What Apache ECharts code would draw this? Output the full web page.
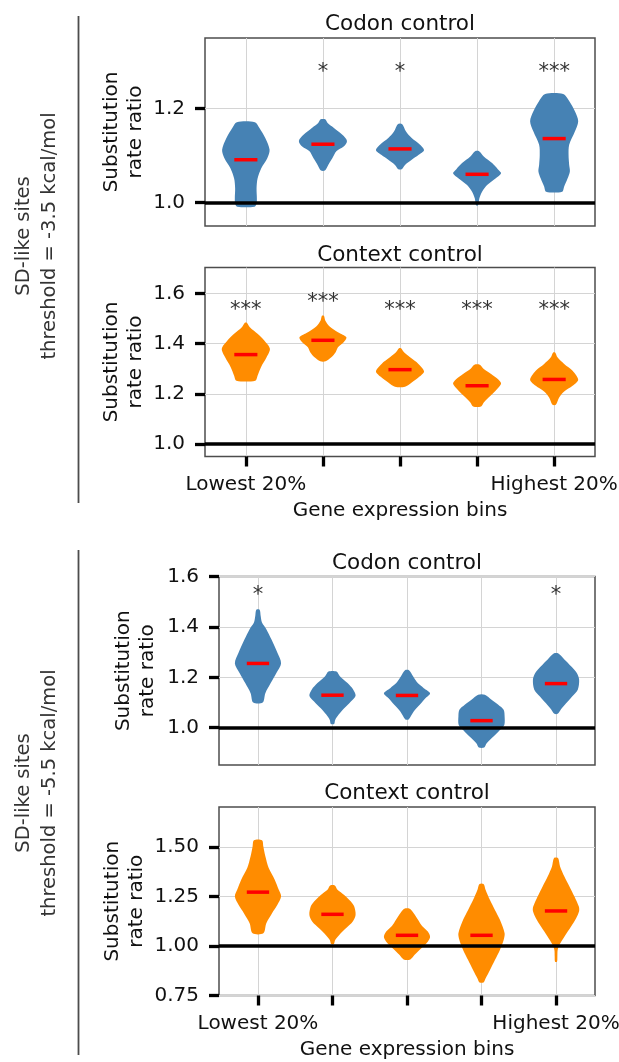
<!DOCTYPE html>
<html>
<head>
<meta charset="utf-8">
<script src="https://cdn.jsdelivr.net/npm/echarts@6/dist/echarts.min.js"></script>
<style>
  html, body { margin: 0; padding: 0; background: #fff; }
  #chart { width: 619px; height: 1062px; }
</style>
</head>
<body>
<div id="chart"></div>
<script>
// x tick labels (expression bins, lowest -> highest)
var bins = ['Lowest 20%', '', '', '', 'Highest 20%'];

// ---- threshold = -3.5 kcal/mol, codon control ----
var codon35Medians = [1.091, 1.124, 1.114, 1.060, 1.136];
var codon35Stars = ['', '*', '*', '', '***'];
var codon35StarY = [1.285, 1.285, 1.285, 1.285, 1.285];
// violin outlines: y values and half widths (in bin units), top to bottom
var codon35Y = [
  [1.171, 1.159, 1.137, 1.112, 1.094, 1.073, 1.051, 1.030, 1.009, 0.998, 0.991],
  [1.177, 1.169, 1.159, 1.144, 1.131, 1.119, 1.109, 1.094, 1.080, 1.068],
  [1.167, 1.151, 1.137, 1.123, 1.111, 1.101, 1.091, 1.080, 1.071],
  [1.109, 1.098, 1.084, 1.071, 1.062, 1.051, 1.037, 1.023, 1.009, 0.994],
  [1.231, 1.216, 1.194, 1.173, 1.151, 1.123, 1.101, 1.080, 1.066, 1.051, 1.034, 1.023]
];
var codon35W = [
  [0.117, 0.174, 0.252, 0.308, 0.278, 0.200, 0.152, 0.139, 0.143, 0.139, 0.113],
  [0.030, 0.061, 0.139, 0.252, 0.312, 0.269, 0.174, 0.122, 0.069, 0.026],
  [0.026, 0.078, 0.152, 0.260, 0.312, 0.239, 0.152, 0.065, 0.022],
  [0.026, 0.087, 0.195, 0.269, 0.312, 0.239, 0.130, 0.065, 0.030, 0.013],
  [0.117, 0.195, 0.269, 0.312, 0.269, 0.195, 0.187, 0.195, 0.204, 0.174, 0.130, 0.104]
];

// ---- threshold = -3.5 kcal/mol, context control ----
var context35Medians = [1.356, 1.413, 1.296, 1.232, 1.257];
var context35Stars = ['***', '***', '***', '***', '***'];
var context35StarY = [1.548, 1.579, 1.548, 1.548, 1.548];
var context35Y = [
  [1.483, 1.465, 1.439, 1.412, 1.379, 1.345, 1.305, 1.272, 1.252],
  [1.511, 1.492, 1.468, 1.445, 1.425, 1.405, 1.385, 1.365, 1.345, 1.329],
  [1.381, 1.365, 1.345, 1.319, 1.289, 1.265, 1.245, 1.228],
  [1.316, 1.299, 1.279, 1.259, 1.241, 1.219, 1.192, 1.165, 1.149],
  [1.364, 1.345, 1.319, 1.292, 1.256, 1.232, 1.209, 1.185, 1.156]
];
var context35W = [
  [0.013, 0.052, 0.152, 0.239, 0.312, 0.269, 0.195, 0.152, 0.122],
  [0.013, 0.030, 0.087, 0.195, 0.304, 0.269, 0.195, 0.165, 0.109, 0.035],
  [0.013, 0.052, 0.130, 0.239, 0.312, 0.239, 0.152, 0.065],
  [0.035, 0.087, 0.182, 0.269, 0.312, 0.260, 0.174, 0.087, 0.052],
  [0.013, 0.043, 0.130, 0.239, 0.312, 0.239, 0.130, 0.065, 0.022]
];

// ---- threshold = -5.5 kcal/mol, codon control ----
var codon55Medians = [1.255, 1.129, 1.128, 1.028, 1.175];
var codon55Stars = ['*', '', '', '', '*'];
var codon55StarY = [1.540, 1.540, 1.540, 1.540, 1.540];
var codon55Y = [
  [1.468, 1.444, 1.417, 1.391, 1.351, 1.297, 1.255, 1.217, 1.177, 1.137, 1.100],
  [1.223, 1.204, 1.177, 1.151, 1.127, 1.104, 1.077, 1.051, 1.031, 1.015],
  [1.228, 1.204, 1.177, 1.157, 1.137, 1.117, 1.091, 1.064, 1.033],
  [1.131, 1.111, 1.091, 1.071, 1.044, 1.011, 0.991, 0.964, 0.937, 0.921],
  [1.295, 1.271, 1.244, 1.217, 1.191, 1.151, 1.124, 1.097, 1.073, 1.055]
];
var codon55W = [
  [0.022, 0.036, 0.054, 0.112, 0.180, 0.261, 0.310, 0.247, 0.171, 0.099, 0.063],
  [0.054, 0.099, 0.202, 0.279, 0.310, 0.247, 0.157, 0.081, 0.036, 0.022],
  [0.027, 0.081, 0.144, 0.225, 0.310, 0.247, 0.171, 0.090, 0.022],
  [0.045, 0.135, 0.225, 0.297, 0.310, 0.306, 0.247, 0.157, 0.067, 0.036],
  [0.027, 0.112, 0.202, 0.279, 0.310, 0.292, 0.216, 0.135, 0.067, 0.022]
];

// ---- threshold = -5.5 kcal/mol, context control ----
var context55Medians = [1.272, 1.160, 1.054, 1.054, 1.177];
var context55Stars = ['', '', '', '', ''];
var context55StarY = [0, 0, 0, 0, 0];
var context55Y = [
  [1.534, 1.503, 1.453, 1.394, 1.335, 1.284, 1.250, 1.208, 1.166, 1.115, 1.064],
  [1.306, 1.284, 1.258, 1.225, 1.199, 1.157, 1.123, 1.090, 1.056, 1.030, 1.010],
  [1.188, 1.166, 1.132, 1.101, 1.073, 1.047, 1.022, 0.988, 0.954, 0.932],
  [1.313, 1.284, 1.233, 1.182, 1.132, 1.064, 1.030, 0.980, 0.929, 0.878, 0.836, 0.816],
  [1.444, 1.402, 1.351, 1.301, 1.250, 1.199, 1.177, 1.140, 1.098, 1.047, 1.005, 0.980, 0.946, 0.921]
];
var context55W = [
  [0.054, 0.072, 0.099, 0.144, 0.225, 0.279, 0.310, 0.261, 0.189, 0.112, 0.072],
  [0.031, 0.067, 0.157, 0.247, 0.292, 0.310, 0.270, 0.180, 0.090, 0.036, 0.018],
  [0.036, 0.090, 0.148, 0.202, 0.279, 0.310, 0.279, 0.189, 0.099, 0.045],
  [0.027, 0.054, 0.112, 0.180, 0.247, 0.310, 0.297, 0.247, 0.180, 0.112, 0.054, 0.027],
  [0.027, 0.054, 0.112, 0.180, 0.247, 0.306, 0.310, 0.270, 0.202, 0.112, 0.045, 0.022, 0.018, 0.013]
];

// y axis ranges and ticks per panel
var yMin = [0.95, 0.95, 0.852, 0.75];
var yMax = [1.35, 1.703, 1.6, 1.702];
var yTicks = [
  [1.0, 1.2],
  [1.0, 1.2, 1.4, 1.6],
  [1.0, 1.2, 1.4, 1.6],
  [0.75, 1.0, 1.25, 1.5]
];
var binTicks = [0, 1, 2, 3, 4];

var FONT = 'DejaVu Sans';
var BLUE = '#4682b4';
var ORANGE = '#ff8c00';
var TEXT = '#111';

var chart = echarts.init(document.getElementById('chart'), null, { renderer: 'canvas' });

var grids = [
  { left: 205, right: 24, top: 38, height: 188 },
  { left: 205, right: 24, top: 267.5, height: 189 },
  { left: 219, right: 24, top: 576.5, height: 188.5 },
  { left: 219, right: 24, top: 807, height: 188.5 }
];
var xRange = [[-0.53, 4.53], [-0.53, 4.53], [-0.523, 4.523], [-0.523, 4.523]];
var nameGaps = [57, 57, 59, 70];
var hasXLabels = [false, true, false, true];

var xAxes = [], yAxes = [], series = [];

function violinRender(ys, ws, color) {
  return function (params, api) {
    var i = params.dataIndex;
    var right = [], left = [];
    ys[i].forEach(function (y, k) {
      right.push(api.coord([i + ws[i][k], y]));
      left.unshift(api.coord([i - ws[i][k], y]));
    });
    return {
      type: 'polygon',
      shape: { points: right.concat(left), smooth: 0.3 },
      style: { fill: color }
    };
  };
}

function medianRender(medians) {
  return function (params, api) {
    var i = params.dataIndex;
    var a = api.coord([i - 0.15, medians[i]]);
    var b = api.coord([i + 0.15, medians[i]]);
    return {
      type: 'line',
      shape: { x1: a[0], y1: a[1], x2: b[0], y2: b[1] },
      style: { stroke: '#ff0000', lineWidth: 3.5 }
    };
  };
}

function starRender(stars, starY) {
  return function (params, api) {
    var i = params.dataIndex;
    if (!stars[i]) return null;
    var p = api.coord([i, starY[i]]);
    return {
      type: 'text',
      x: p[0],
      y: p[1] + 4,
      style: {
        text: stars[i],
        fill: '#333',
        fontSize: 21,
        fontFamily: FONT,
        align: 'center',
        verticalAlign: 'middle'
      }
    };
  };
}

var panels = [
  { y: codon35Y, w: codon35W, med: codon35Medians, stars: codon35Stars, starY: codon35StarY, color: BLUE },
  { y: context35Y, w: context35W, med: context35Medians, stars: context35Stars, starY: context35StarY, color: ORANGE },
  { y: codon55Y, w: codon55W, med: codon55Medians, stars: codon55Stars, starY: codon55StarY, color: BLUE },
  { y: context55Y, w: context55W, med: context55Medians, stars: context55Stars, starY: context55StarY, color: ORANGE }
];

panels.forEach(function (p, k) {
  xAxes.push({
    type: 'value',
    gridIndex: k,
    min: xRange[k][0],
    max: xRange[k][1],
    name: hasXLabels[k] ? 'Gene expression bins' : '',
    nameLocation: 'middle',
    nameGap: 44,
    nameTextStyle: { fontSize: 20, color: TEXT, fontFamily: FONT },
    axisLine: { show: false, onZero: false },
    axisTick: {
      show: hasXLabels[k],
      customValues: binTicks,
      length: 10,
      lineStyle: { color: '#000', width: 3.3 }
    },
    axisLabel: {
      show: hasXLabels[k],
      customValues: binTicks,
      margin: 18,
      fontSize: 20,
      color: TEXT,
      fontFamily: FONT,
      formatter: function (v) { return bins[Math.round(v)]; }
    },
    splitLine: { show: true, lineStyle: { color: '#d4d4d4', width: 1 } }
  });
  yAxes.push({
    type: 'value',
    gridIndex: k,
    min: yMin[k],
    max: yMax[k],
    name: 'Substitution\nrate ratio',
    nameLocation: 'middle',
    nameRotate: 90,
    nameGap: nameGaps[k],
    nameMoveOverlap: false,
    nameTextStyle: { fontSize: 20, lineHeight: 24, color: TEXT, fontFamily: FONT, align: 'center' },
    axisLine: { show: false, onZero: false },
    axisTick: {
      show: true,
      customValues: yTicks[k],
      length: 10,
      lineStyle: { color: '#000', width: 3.3 }
    },
    axisLabel: {
      customValues: yTicks[k],
      margin: 20,
      fontSize: 20,
      color: TEXT,
      fontFamily: FONT,
      formatter: function (v) { return k === 3 ? v.toFixed(2) : v.toFixed(1); }
    },
    splitLine: { show: true, lineStyle: { color: '#d4d4d4', width: 1 } }
  });

  var idx = p.med.map(function (m, i) { return [i, m]; });
  series.push({
    type: 'custom',
    xAxisIndex: k,
    yAxisIndex: k,
    z: 2,
    silent: true,
    renderItem: violinRender(p.y, p.w, p.color),
    data: idx
  });
  series.push({
    type: 'custom',
    xAxisIndex: k,
    yAxisIndex: k,
    z: 3,
    silent: true,
    renderItem: medianRender(p.med),
    data: idx,
    markLine: {
      silent: true,
      symbol: 'none',
      z: 4,
      label: { show: false },
      lineStyle: { color: '#000', width: 3.5, type: 'solid' },
      data: [{ yAxis: 1 }]
    }
  });
  series.push({
    type: 'custom',
    xAxisIndex: k,
    yAxisIndex: k,
    z: 5,
    silent: true,
    renderItem: starRender(p.stars, p.starY),
    data: idx
  });
});

var titleText = ['Codon control', 'Context control', 'Codon control', 'Context control'];
var titleY = [24.5, 255, 563, 793];
var graphics = [];
titleText.forEach(function (t, k) {
  var g = grids[k];
  graphics.push({
    type: 'text',
    x: g.left + (619 - g.right - g.left) / 2,
    y: titleY[k],
    style: {
      text: t, fontSize: 21.5, fontFamily: FONT, fill: TEXT,
      align: 'center', verticalAlign: 'middle'
    }
  });
});

// group brackets and labels on the left
var groupText = ['SD-like sites\nthreshold = -3.5 kcal/mol', 'SD-like sites\nthreshold = -5.5 kcal/mol'];
var groupCenter = [236, 793];
var groupLine = [[16, 503], [550, 1055]];
groupText.forEach(function (t, k) {
  graphics.push({
    type: 'line',
    shape: { x1: 78.5, y1: groupLine[k][0], x2: 78.5, y2: groupLine[k][1] },
    style: { stroke: '#4d4d4d', lineWidth: 1.8 }
  });
  graphics.push({
    type: 'text',
    x: 37,
    y: groupCenter[k],
    rotation: Math.PI / 2,
    style: {
      text: t,
      fontSize: 19.5,
      fontFamily: FONT,
      lineHeight: 26,
      fill: '#333',
      align: 'center',
      verticalAlign: 'middle'
    }
  });
});

chart.setOption({
  animation: false,
  backgroundColor: '#fff',
  textStyle: { fontFamily: FONT },
  grid: grids.map(function (g) {
    return {
      left: g.left, right: g.right, top: g.top, height: g.height,
      show: true, borderColor: '#4d4d4d', borderWidth: 1.5,
      backgroundColor: 'transparent',
      outerBoundsMode: 'none'
    };
  }),
  xAxis: xAxes,
  yAxis: yAxes,
  series: series,
  graphic: graphics
});
</script>
</body>
</html>
